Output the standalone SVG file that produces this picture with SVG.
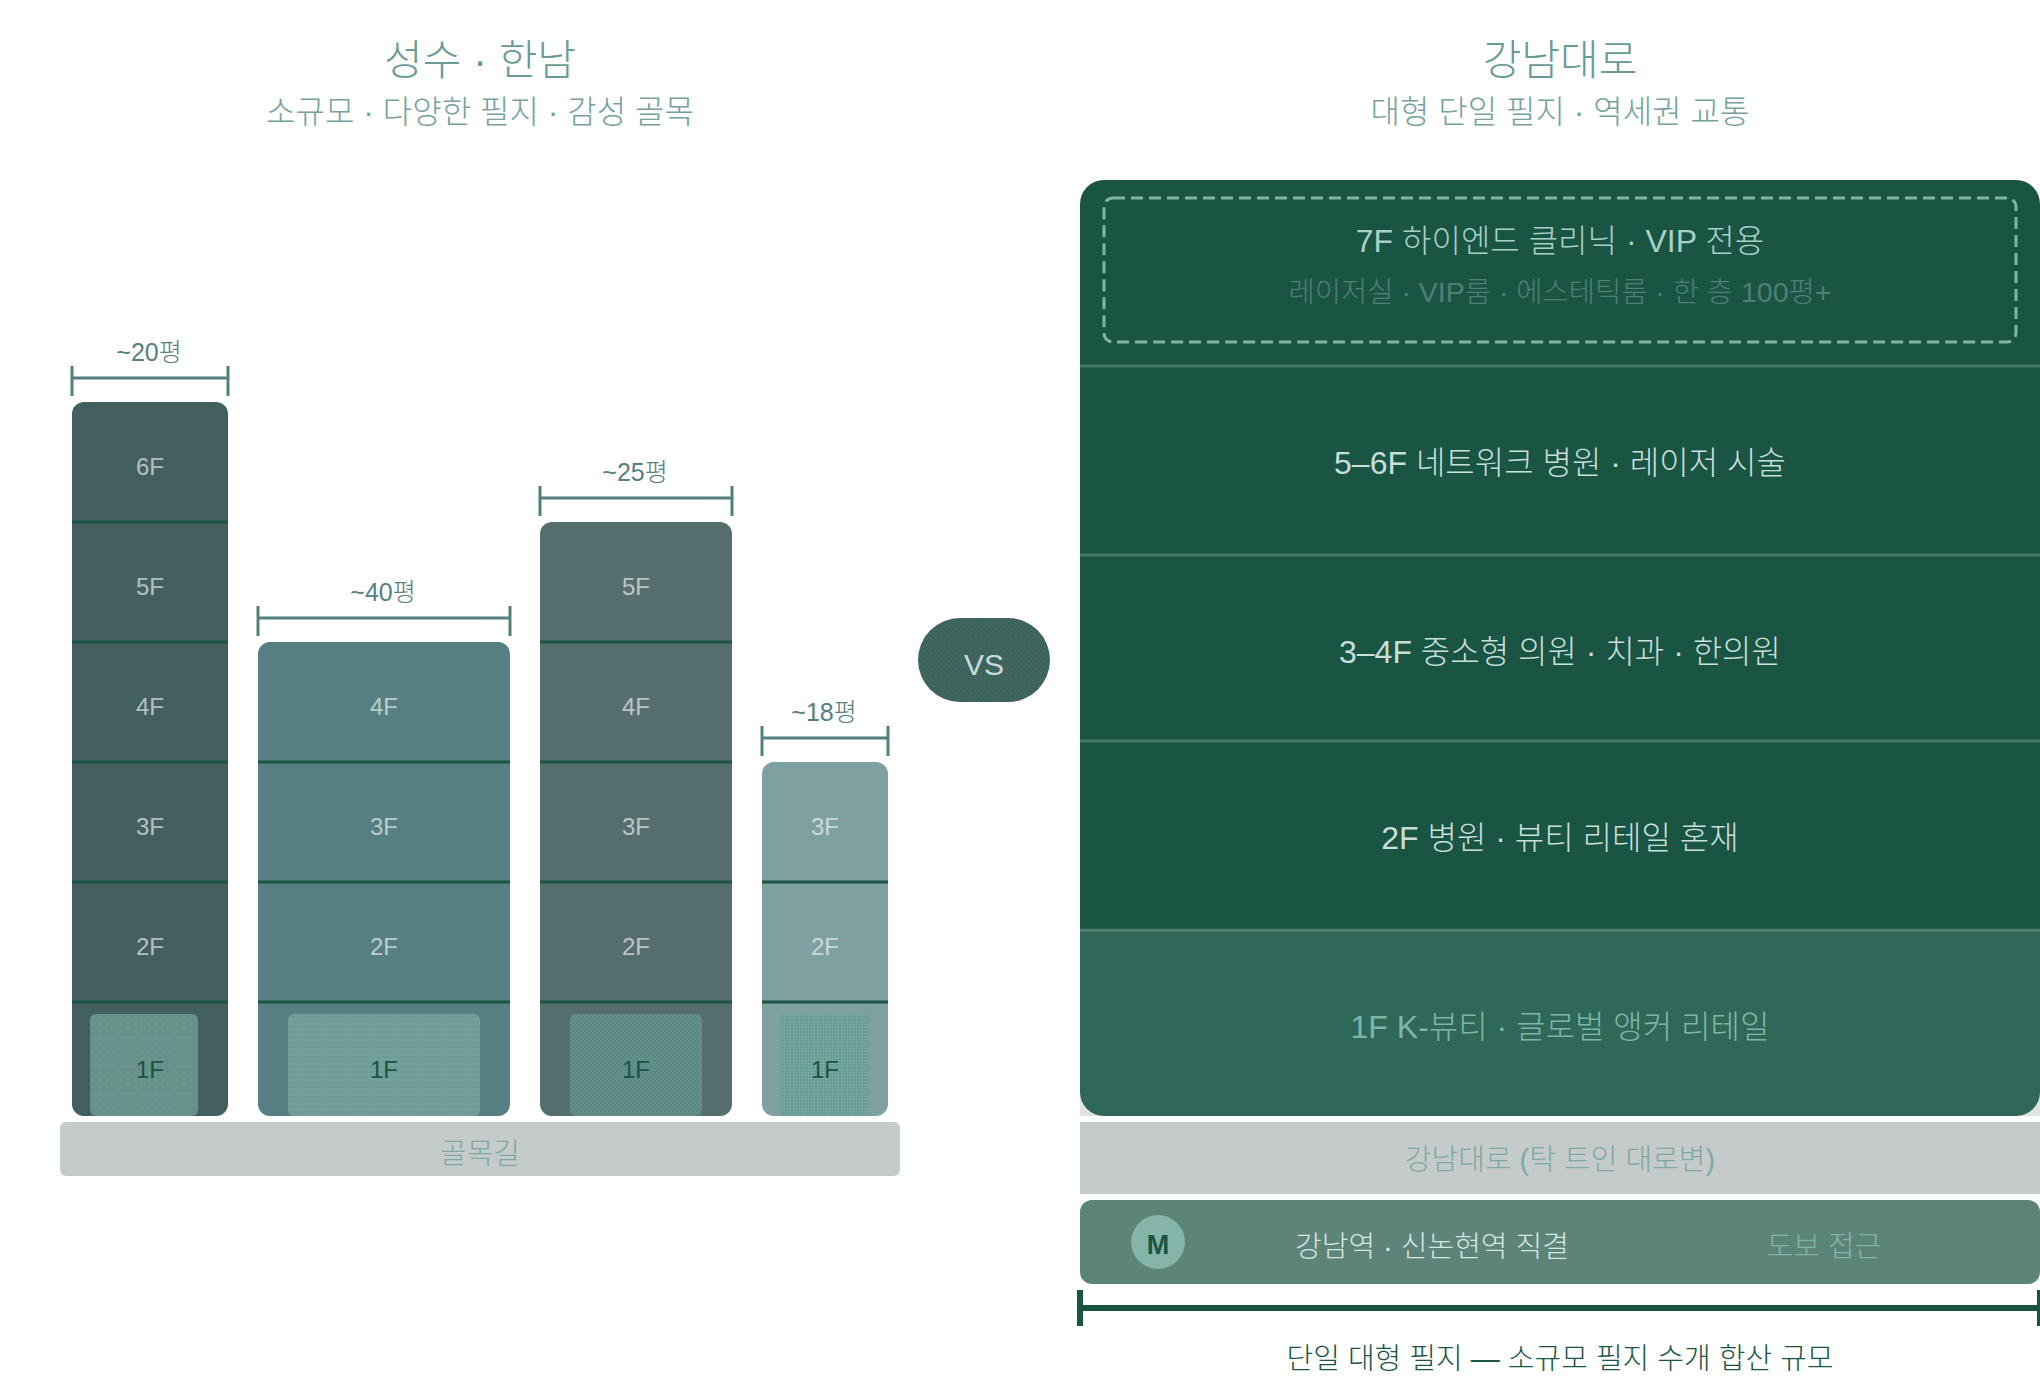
<svg xmlns="http://www.w3.org/2000/svg" width="2040" height="1380" viewBox="0 0 2040 1380">
<style>
text{font-family:"Liberation Sans","Noto Sans CJK KR",sans-serif;text-anchor:middle;font-weight:300}
.fl{font-size:24px;fill:#fff;fill-opacity:.62}
.g{font-size:24px;fill:#1a5544}
.dim{font-size:25px;fill:#54807f}
.dl{stroke:#54807f;stroke-width:3;fill:none}
.sep{stroke:#1a5544;stroke-width:3}
.sepr{stroke:#fff;stroke-opacity:.2;stroke-width:3}
.rt{font-size:32px;fill:#c8ded8}
.ti{font-size:42px;fill:#6a9a95}
.st{font-size:32px;fill:#76a19d}
.m{font-size:29px}
</style>
<defs>
<pattern id="d1" width="7" height="7" patternUnits="userSpaceOnUse"><circle cx="2" cy="2" r=".5" fill="#8dbdb1"/></pattern>
<pattern id="d2" width="3" height="5" patternUnits="userSpaceOnUse"><circle cx="1.5" cy="2" r=".7" fill="#5c8f86"/></pattern>
<pattern id="d3" width="4" height="4" patternUnits="userSpaceOnUse"><circle cx="1" cy="1" r=".45" fill="#7fb5a8"/><circle cx="3" cy="3" r=".45" fill="#7fb5a8"/></pattern>
<pattern id="d4" width="3" height="3" patternUnits="userSpaceOnUse"><circle cx="1.5" cy="1.5" r=".7" fill="#86b9ad"/></pattern>
<pattern id="dv" width="5" height="5" patternUnits="userSpaceOnUse"><circle cx="1.2" cy="1.2" r=".55" fill="#1a5544"/><circle cx="3.7" cy="3.7" r=".55" fill="#1a5544"/></pattern>
</defs>
<rect width="2040" height="1380" fill="#fff"/>
<g id="title-left">
<text class="ti" x="480" y="75">성수 · 한남</text>
<text class="st" x="480" y="123">소규모 · 다양한 필지 · 감성 골목</text>
</g>
<g id="title-right">
<text class="ti" x="1560" y="75">강남대로</text>
<text class="st" x="1560" y="123">대형 단일 필지 · 역세권 교통</text>
</g>
<g id="building-1">
<rect x="72" y="402" width="156" height="714" rx="12" fill="#445f60"/>
<rect x="90" y="1014" width="108" height="102" rx="6" fill="#67918a"/>
<rect x="90" y="1014" width="108" height="102" rx="6" fill="url(#d1)"/>
<path class="sep" d="M72 522H228M72 642H228M72 762H228M72 882H228M72 1002H228"/>
<g class="fl"><text x="150" y="475">6F</text><text x="150" y="595">5F</text><text x="150" y="715">4F</text><text x="150" y="835">3F</text><text x="150" y="955">2F</text></g>
<text class="g" x="150" y="1078">1F</text>
<text class="dim" x="149" y="361">~20평</text>
<path class="dl" d="M72 378H228M72 366V396M228 366V396"/>
</g>
<g id="building-2">
<rect x="258" y="642" width="252" height="474" rx="12" fill="#557f80"/>
<rect x="288" y="1014" width="192" height="102" rx="6" fill="#72a09a"/>
<rect x="288" y="1014" width="192" height="102" rx="6" fill="url(#d2)"/>
<path class="sep" d="M258 762H510M258 882H510M258 1002H510"/>
<g class="fl"><text x="384" y="715">4F</text><text x="384" y="835">3F</text><text x="384" y="955">2F</text></g>
<text class="g" x="384" y="1078">1F</text>
<text class="dim" x="383" y="601">~40평</text>
<path class="dl" d="M258 618H510M258 606V636M510 606V636"/>
</g>
<g id="building-3">
<rect x="540" y="522" width="192" height="594" rx="12" fill="#566e6e"/>
<rect x="570" y="1014" width="132" height="102" rx="6" fill="#5f8a84"/>
<rect x="570" y="1014" width="132" height="102" rx="6" fill="url(#d3)"/>
<path class="sep" d="M540 642H732M540 762H732M540 882H732M540 1002H732"/>
<g class="fl"><text x="636" y="595">5F</text><text x="636" y="715">4F</text><text x="636" y="835">3F</text><text x="636" y="955">2F</text></g>
<text class="g" x="636" y="1078">1F</text>
<text class="dim" x="635" y="481">~25평</text>
<path class="dl" d="M540 498H732M540 486V516M732 486V516"/>
</g>
<g id="building-4">
<rect x="762" y="762" width="126" height="354" rx="12" fill="#7fa0a0"/>
<rect x="780" y="1014" width="90" height="102" rx="6" fill="#6b9c96"/>
<rect x="780" y="1014" width="90" height="102" rx="6" fill="url(#d4)"/>
<path class="sep" d="M762 882H888M762 1002H888"/>
<g class="fl"><text x="825" y="835">3F</text><text x="825" y="955">2F</text></g>
<text class="g" x="825" y="1078">1F</text>
<text class="dim" x="824" y="721">~18평</text>
<path class="dl" d="M762 738H888M762 726V756M888 726V756"/>
</g>
<g id="alley">
<rect x="60" y="1122" width="840" height="54" rx="6" fill="#c5cbca"/>
<text x="480" y="1164" font-size="29" fill="#7fa8a5">골목길</text>
</g>
<g id="vs">
<rect x="918" y="618" width="132" height="84" rx="42" fill="#41655f"/>
<rect x="918" y="618" width="132" height="84" rx="42" fill="url(#dv)"/>
<text x="984" y="675" font-size="30" fill="#c9dad6" style="font-weight:400">VS</text>
</g>
<g id="tower">
<rect x="1080" y="1092" width="960" height="24" fill="#dfe5e3"/>
<path d="M1104 180H2016A24 24 0 0 1 2040 204V930H1080V204A24 24 0 0 1 1104 180Z" fill="#1a5544"/>
<path d="M1080 930H2040V1092A24 24 0 0 1 2016 1116H1104A24 24 0 0 1 1080 1092Z" fill="#2f6858"/>
<path class="sepr" d="M1080 366H2040M1080 555H2040M1080 741H2040M1080 930H2040"/>
<rect x="1104" y="198" width="912" height="144" rx="9" fill="none" stroke="#7fb5a8" stroke-width="3" stroke-dasharray="12 6"/>
<text x="1560" y="252" font-size="32" fill="#a9cfc6">7F 하이엔드 클리닉 · VIP 전용</text>
<text x="1560" y="302" font-size="28.5" fill="#4f7f76">레이저실 · VIP룸 · 에스테틱룸 · 한 층 100평+</text>
<text class="rt" x="1560" y="474">5–6F 네트워크 병원 · 레이저 시술</text>
<text class="rt" x="1560" y="663">3–4F 중소형 의원 · 치과 · 한의원</text>
<text class="rt" x="1560" y="849">2F 병원 · 뷰티 리테일 혼재</text>
<text x="1560" y="1038" font-size="32" fill="#7fb5a8">1F K-뷰티 · 글로벌 앵커 리테일</text>
</g>
<g id="road">
<rect x="1080" y="1122" width="960" height="72" fill="#c5cbca"/>
<text class="m" x="1560" y="1170" fill="#7fa8a5">강남대로 (탁 트인 대로변)</text>
</g>
<g id="metro">
<rect x="1080" y="1200" width="960" height="84" rx="12" fill="#5d8478"/>
<circle cx="1158" cy="1242" r="27" fill="#85b5a8"/>
<text x="1158" y="1254" font-size="27" fill="#1a5544" style="font-weight:700">M</text>
<text class="m" x="1432" y="1257" fill="#d4e6e1">강남역 · 신논현역 직결</text>
<text class="m" x="1824" y="1257" fill="#7fb5a8">도보 접근</text>
</g>
<g id="connectors">
<path d="M1080 1308H2040M1080 1290V1326M2040 1290V1326" stroke="#1a5544" stroke-width="6" fill="none"/>
</g>
<text class="m" x="1560" y="1369" fill="#1a5544">단일 대형 필지 — 소규모 필지 수개 합산 규모</text>
</svg>
